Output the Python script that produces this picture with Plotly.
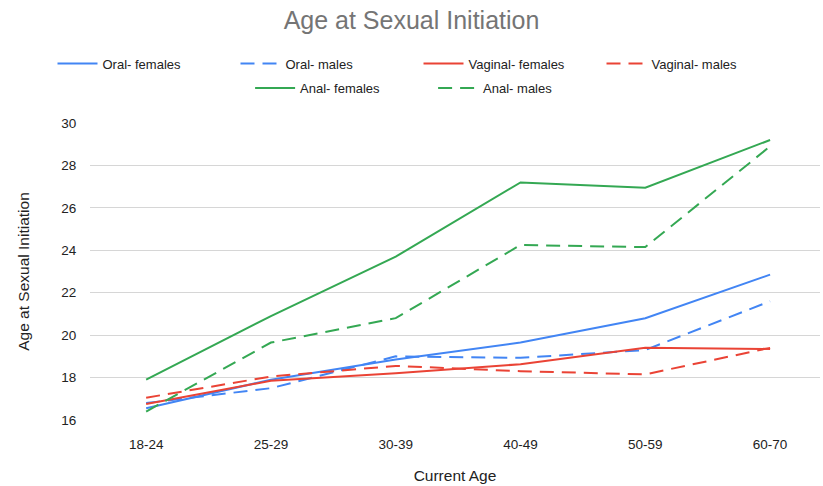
import plotly.graph_objects as go

age_groups = ["18-24", "25-29", "30-39", "40-49", "50-59", "60-70"]

oral_females = [16.55, 17.9, 18.85, 19.65, 20.8, 22.85]
oral_males = [16.8, 17.5, 19.0, 18.93, 19.3, 21.6]
vaginal_females = [16.75, 17.85, 18.2, 18.63, 19.4, 19.35]
vaginal_males = [17.05, 18.05, 18.55, 18.3, 18.15, 19.4]
anal_females = [17.9, 20.9, 23.7, 27.2, 26.95, 29.2]
anal_males = [16.4, 19.65, 20.8, 24.25, 24.15, 28.9]

BLUE = "#4285F4"
RED = "#EA4335"
GREEN = "#34A853"
DASH = "14px,8px"

series = [
    ("Oral- females", oral_females, BLUE, "solid", "legend"),
    ("Oral- males", oral_males, BLUE, DASH, "legend"),
    ("Vaginal- females", vaginal_females, RED, "solid", "legend"),
    ("Vaginal- males", vaginal_males, RED, DASH, "legend"),
    ("Anal- females", anal_females, GREEN, "solid", "legend2"),
    ("Anal- males", anal_males, GREEN, DASH, "legend2"),
]

fig = go.Figure()
for name, vals, color, dash, leg in series:
    fig.add_trace(go.Scatter(
        x=age_groups, y=vals, name=name, mode="lines",
        line=dict(color=color, width=2, dash=dash),
        legend=leg,
    ))

font_family = "Arial, Liberation Sans, sans-serif"
legend_style = dict(
    orientation="h", xanchor="center", yanchor="middle",
    font=dict(family=font_family, size=13, color="#222222"),
    bgcolor="rgba(0,0,0,0)", itemwidth=40,
    tracegroupgap=0, entrywidthmode="pixels",
)

fig.update_layout(
    width=823, height=486,
    margin=dict(l=90, r=3, t=123, b=66),
    paper_bgcolor="white", plot_bgcolor="white",
    font=dict(family=font_family, size=14, color="#222222"),
    title=dict(
        text="Age at Sexual Initiation", x=0.5, xanchor="center",
        y=0.958, yanchor="middle",
        font=dict(family=font_family, size=25, color="#757575"),
    ),
    legend=dict(x=0.45, y=1.2, entrywidth=128, **legend_style),
    legend2=dict(x=0.47, y=1.118, entrywidth=128, **legend_style),
    xaxis=dict(
        showgrid=False, showline=False, zeroline=False,
        ticks="outside", ticklen=12, tickcolor="rgba(0,0,0,0)",
        tickfont=dict(size=13.5, color="#222222"),
        title=dict(text="Current Age", font=dict(size=15.5, color="#222222"), standoff=18),
        range=[-0.45, 5.4],
    ),
    yaxis=dict(
        range=[16, 30], dtick=2, tick0=16,
        showgrid=True, gridcolor="#d6d6d6", gridwidth=1,
        zeroline=False, showline=False,
        ticks="outside", ticklen=10, tickcolor="rgba(0,0,0,0)",
        tickfont=dict(size=13.5, color="#222222"),
        title=dict(text="Age at Sexual Initiation", font=dict(size=15.5, color="#222222"), standoff=27),
    ),
)

fig.write_html("out.html")
